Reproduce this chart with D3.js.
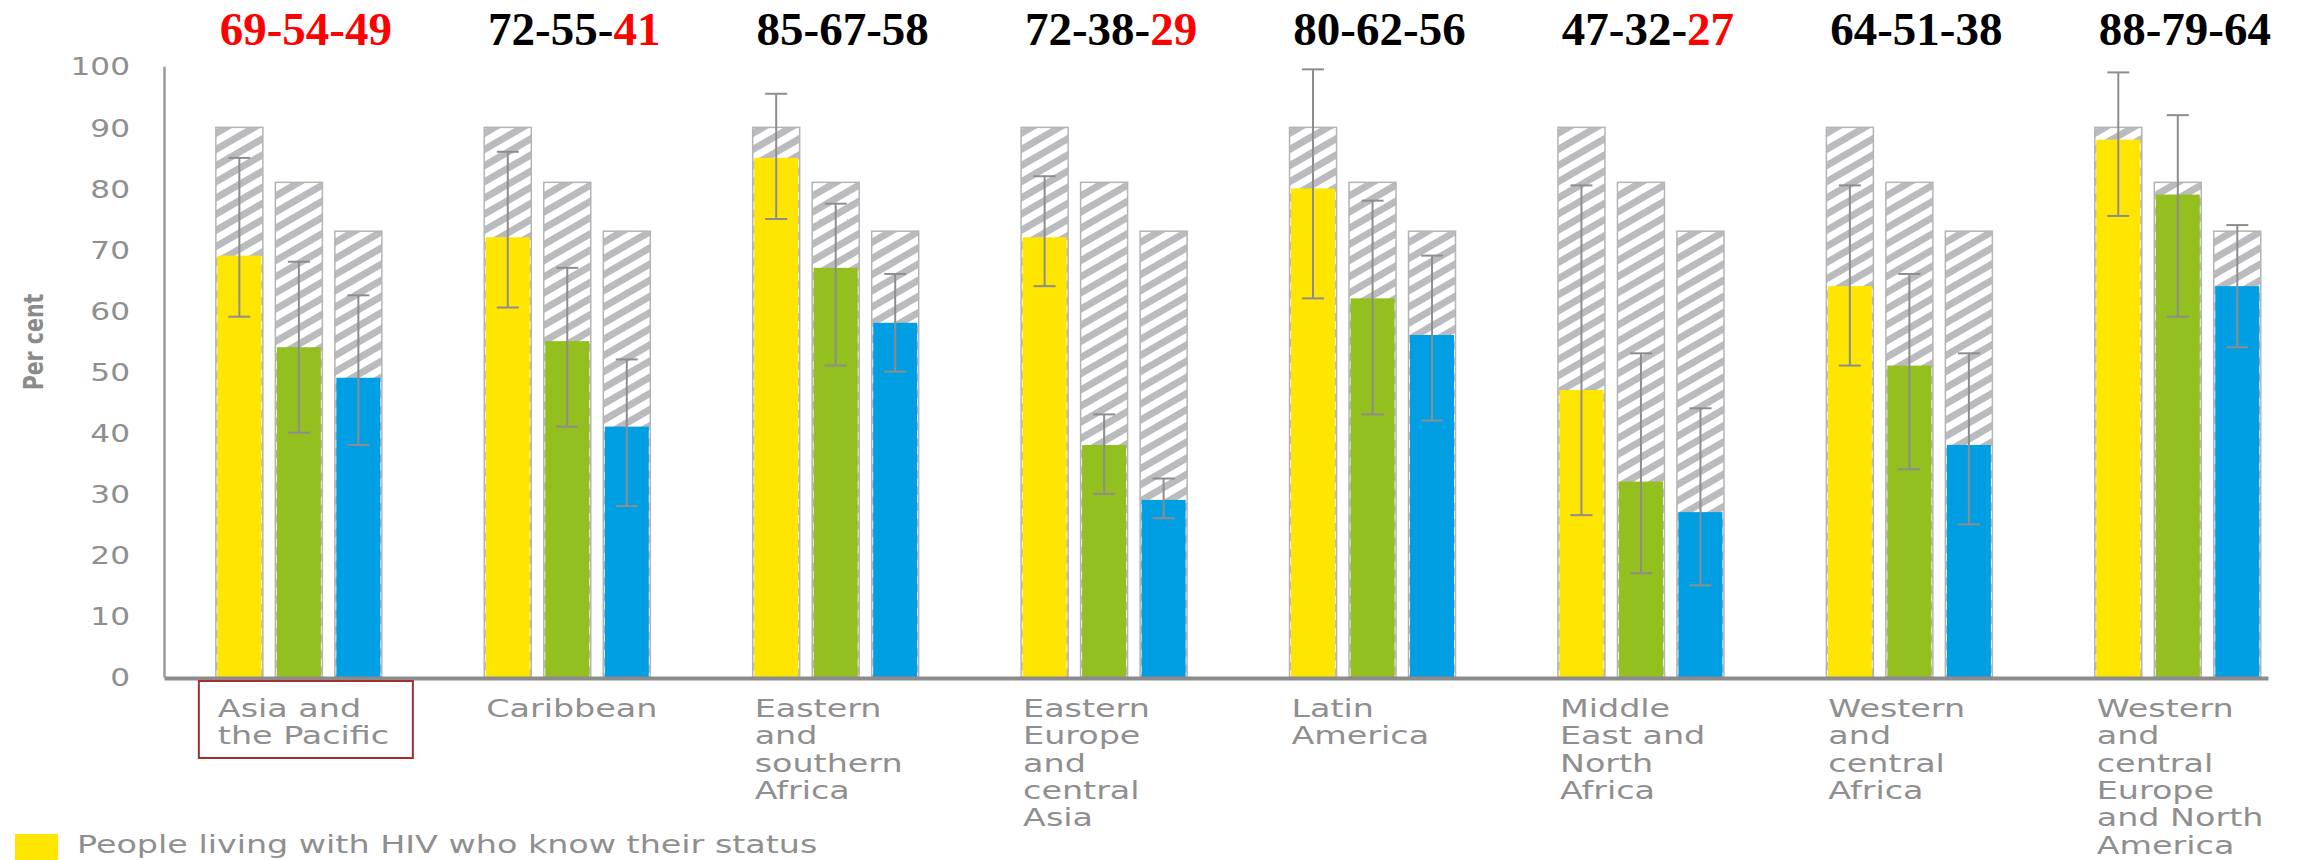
<!DOCTYPE html>
<html>
<head>
<meta charset="utf-8">
<script src="https://cdn.jsdelivr.net/npm/d3@7"></script>
<style>
  html, body { margin: 0; padding: 0; background: #ffffff; }
  svg { display: block; }
</style>
</head>
<body>
<script>
// Regions along the x axis, with their wrapped label lines
const categories = [
  "Asia and the Pacific", "Caribbean", "Eastern and southern Africa",
  "Eastern Europe and central Asia", "Latin America",
  "Middle East and North Africa", "Western and central Africa",
  "Western and central Europe and North America"
];
const labelLines = [
  ["Asia and", "the Pacific"],
  ["Caribbean"],
  ["Eastern", "and", "southern", "Africa"],
  ["Eastern", "Europe", "and", "central", "Asia"],
  ["Latin", "America"],
  ["Middle", "East and", "North", "Africa"],
  ["Western", "and", "central", "Africa"],
  ["Western", "and", "central", "Europe", "and North", "America"]
];

// Per cent of people living with HIV: know status / on treatment / virally suppressed
const knowStatus  = [69, 72, 85, 72, 80, 47, 64, 88];
const onTreatment = [54, 55, 67, 38, 62, 32, 51, 79];
const suppressed  = [49, 41, 58, 29, 56, 27, 38, 64];

// Uncertainty bounds
const knowLow   = [59, 60.5, 75, 64, 62, 26.5, 51, 75.5];
const knowHigh  = [85, 86, 95.5, 82, 99.5, 80.5, 80.5, 99];
const treatLow  = [40, 41, 51, 30, 43, 17, 34, 59];
const treatHigh = [68, 67, 77.5, 43, 78, 53, 66, 92];
const suppLow   = [38, 28, 50, 26, 42, 15, 25, 54];
const suppHigh  = [62.5, 52, 66, 32.5, 69, 44, 53, 74];

// 90-90-90 targets expressed against all people living with HIV
const targets = [90, 81, 73];

// Which parts of each headline are flagged red (know, treatment, suppressed)
const headlineRed = [
  [1, 1, 1], [0, 0, 1], [0, 0, 0], [0, 0, 1],
  [0, 0, 0], [0, 0, 1], [0, 0, 0], [0, 0, 0]
];

const yTicks = [0, 10, 20, 30, 40, 50, 60, 70, 80, 90, 100];
const yTitle = "Per cent";
const legendLabel = "People living with HIV who know their status";
const seriesColors = ["#FFE600", "#93BF1F", "#009FE3"];

const series = [
  { values: knowStatus,  low: knowLow,  high: knowHigh },
  { values: onTreatment, low: treatLow, high: treatHigh },
  { values: suppressed,  low: suppLow,  high: suppHigh }
];

const W = 2323, H = 860;
const textGrey = "#8f8f8f";
const tickStretch = "scale(1.3,1)";
const labelStretch = "scale(1.39,1)";

const svg = d3.select("body").append("svg")
  .attr("width", W).attr("height", H)
  .attr("font-family", "'DejaVu Sans', sans-serif");

// Diagonal hatch used for the target bars
const defs = svg.append("defs");
const pat = defs.append("pattern")
  .attr("id", "hatch")
  .attr("patternUnits", "userSpaceOnUse")
  .attr("width", 14).attr("height", 14)
  .attr("patternTransform", "rotate(-30)");
pat.append("rect").attr("width", 14).attr("height", 14).attr("fill", "#ffffff");
pat.append("rect").attr("width", 14).attr("height", 7).attr("fill", "#babbbf");

const y = d3.scaleLinear().domain([0, 100]).range([677, 66.3]);
const x0 = d3.scaleBand()
  .domain(d3.range(categories.length))
  .range([164, 2268])
  .paddingInner(0.3815)
  .paddingOuter(0.11)
  .align(0.878);
const x1 = d3.scaleBand()
  .domain(d3.range(series.length))
  .range([0, x0.bandwidth()])
  .paddingInner(0.21);

// Groups of bars
const groups = svg.append("g").selectAll("g.region")
  .data(categories)
  .join("g")
  .attr("class", "region")
  .attr("transform", (d, i) => `translate(${x0(i)},0)`);

groups.each(function (cat, i) {
  const g = d3.select(this);
  series.forEach((s, j) => {
    const bx = x1(j), bw = x1.bandwidth();
    // target (hatched) bar
    g.append("rect")
      .attr("x", bx).attr("width", bw)
      .attr("y", y(targets[j])).attr("height", y(0) - y(targets[j]))
      .attr("fill", "url(#hatch)")
      .attr("stroke", "#b4b4b4").attr("stroke-width", 1.5);
    // achieved value
    g.append("rect")
      .attr("x", bx + 1.5).attr("width", bw - 3)
      .attr("y", y(s.values[i])).attr("height", y(0) - y(s.values[i]))
      .attr("fill", seriesColors[j]);
    // uncertainty bar
    const cx = bx + bw / 2, cap = 11;
    const eb = g.append("g").attr("stroke", "#8d8d8d").attr("stroke-width", 2).attr("fill", "none");
    eb.append("line").attr("x1", cx).attr("x2", cx)
      .attr("y1", y(s.low[i])).attr("y2", y(s.high[i]));
    eb.append("line").attr("x1", cx - cap).attr("x2", cx + cap)
      .attr("y1", y(s.low[i])).attr("y2", y(s.low[i]));
    eb.append("line").attr("x1", cx - cap).attr("x2", cx + cap)
      .attr("y1", y(s.high[i])).attr("y2", y(s.high[i]));
  });
});

// Y axis
const yAxis = svg.append("g")
  .attr("transform", `translate(${x0.range()[0]},0)`)
  .call(d3.axisLeft(y).tickValues(yTicks).tickSizeInner(0).tickSizeOuter(0).tickPadding(0));
yAxis.select(".domain").attr("stroke", "#9a9a9a").attr("stroke-width", 2.5);
yAxis.selectAll(".tick text")
  .attr("x", -34 / 1.3)
  .attr("dy", "0.36em")
  .attr("transform", tickStretch)
  .attr("font-size", 24)
  .attr("font-family", "'DejaVu Sans', sans-serif")
  .attr("fill", textGrey);

// Baseline
const xAxis = svg.append("g")
  .attr("transform", `translate(0,${y(0) + 1})`)
  .call(d3.axisBottom(x0).tickSize(0).tickFormat(""));
xAxis.select(".domain").attr("stroke", "#8c8c8c").attr("stroke-width", 4);

// Y title
svg.append("text")
  .attr("transform", "translate(43,342) scale(1.3,1) rotate(-90)")
  .attr("text-anchor", "middle")
  .attr("font-size", 20.5)
  .attr("font-weight", "bold")
  .attr("fill", "#8a8a8a")
  .text(yTitle);

// Category labels
labelLines.forEach((lines, i) => {
  lines.forEach((ln, k) => {
    svg.append("text")
      .attr("transform", `translate(${x0(i) + 2},${717 + k * 27.3}) ${labelStretch}`)
      .attr("font-size", 24)
      .attr("fill", textGrey)
      .text(ln);
  });
});

// Highlight box around the first region label
svg.append("rect")
  .attr("x", x0(0) - 17).attr("y", 681)
  .attr("width", 214).attr("height", 77)
  .attr("fill", "none")
  .attr("stroke", "#a3302f").attr("stroke-width", 2);

// Headline numbers above each region
const headlines = svg.append("g")
  .attr("font-family", "'Liberation Serif', 'Times New Roman', serif")
  .attr("font-weight", "bold")
  .attr("font-size", 47)
  .attr("text-anchor", "middle");
categories.forEach((cat, i) => {
  const vals = [knowStatus[i], onTreatment[i], suppressed[i]];
  const t = headlines.append("text")
    .attr("x", x0(i) + x0.bandwidth() / 2 + 7)
    .attr("y", 45);
  vals.forEach((v, k) => {
    if (k > 0) {
      // hyphen takes the colour of the preceding value
      t.append("tspan")
        .attr("fill", headlineRed[i][k - 1] ? "#ff0000" : "#000000")
        .text("-");
    }
    t.append("tspan")
      .attr("fill", headlineRed[i][k] ? "#ff0000" : "#000000")
      .text(v);
  });
});

// Legend
svg.append("rect")
  .attr("x", 15).attr("y", 834)
  .attr("width", 43).attr("height", 26)
  .attr("fill", seriesColors[0]);
svg.append("text")
  .attr("transform", `translate(77,853) ${labelStretch}`)
  .attr("font-size", 24)
  .attr("fill", textGrey)
  .text(legendLabel);
</script>
</body>
</html>
